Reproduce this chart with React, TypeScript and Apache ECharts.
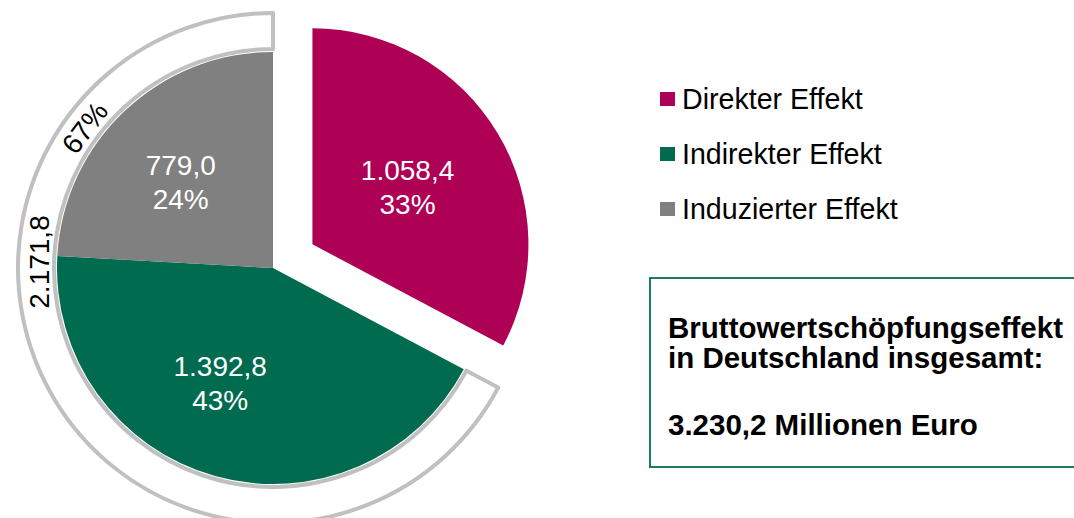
import React, { useEffect, useRef } from "react";
import * as echarts from "echarts";

const categories = ["Direkter Effekt", "Indirekter Effekt", "Induzierter Effekt"];
const values = [1058.4, 1392.8, 779.0];
const colors = ["#AE0055", "#006B4F", "#808080"];
const labelOffsets = [[7, 3], [-23, 9], [-16, -5]];
const boxLines = ["Bruttowertschöpfungseffekt", "in Deutschland insgesamt:", "3.230,2 Millionen Euro"];

const FONT = "Liberation Sans, Arial, sans-serif";

function de(v: number): string {
  const [i, d] = v.toFixed(1).split(".");
  return i.replace(/\B(?=(\d{3})+(?!\d))/g, ".") + "," + d;
}

export default function App() {
  const ref = useRef<HTMLDivElement>(null);
  useEffect(() => {
    document.body.style.margin = "0";
    const chart = echarts.init(ref.current!, null, { renderer: "svg" });
    const total = values.reduce((a, b) => a + b, 0);
    const ringValue = values[1] + values[2];
    const ringPct = Math.round((ringValue / total) * 100);
    const cx = 273;
    const cy = 268;
    chart.setOption({
      animation: false,
      legend: {
        orient: "vertical",
        left: 660,
        top: 84,
        padding: 0,
        itemWidth: 15,
        itemHeight: 14,
        itemGap: 25,
        icon: "rect",
        data: categories,
        selectedMode: false,
        textStyle: {
          fontFamily: FONT,
          fontSize: 28.6,
          color: "#000",
          lineHeight: 30,
          padding: [0, 0, 0, 2],
        },
      },
      series: [
        {
          type: "pie",
          center: [cx, cy],
          radius: [0, 216],
          startAngle: 90,
          clockwise: true,
          selectedMode: "single",
          selectedOffset: 46,
          silent: true,
          percentPrecision: 0,
          label: {
            show: true,
            position: "inside",
            color: "#fff",
            fontFamily: FONT,
            fontSize: 28,
            lineHeight: 34,
            formatter: (p: any) => de(p.value) + "\n" + p.percent + "%",
          },
          labelLine: { show: false },
          data: categories.map((name, i) => ({
            name,
            value: values[i],
            selected: i === 0,
            itemStyle: { color: colors[i] },
            label: { offset: labelOffsets[i] },
          })),
        },
        {
          type: "pie",
          center: [cx, cy],
          radius: [219, 255],
          startAngle: 90,
          clockwise: true,
          silent: true,
          label: { show: false },
          labelLine: { show: false },
          data: [
            { value: values[0], name: "rest", itemStyle: { color: "rgba(0,0,0,0)", borderWidth: 0 } },
            { value: ringValue, name: "ring", itemStyle: { color: "#fff", borderColor: "#C0C0C0", borderWidth: 4 } },
          ],
        },
      ],
      graphic: [
        {
          type: "text",
          z: 100,
          x: 85,
          y: 128,
          rotation: (53 * Math.PI) / 180,
          style: {
            text: ringPct + "%",
            fontFamily: FONT,
            fontSize: 28,
            fill: "#000",
            align: "center",
            verticalAlign: "middle",
          },
        },
        {
          type: "text",
          z: 100,
          x: 39,
          y: 262,
          rotation: Math.PI / 2,
          style: {
            text: de(ringValue),
            fontFamily: FONT,
            fontSize: 28,
            fill: "#000",
            align: "center",
            verticalAlign: "middle",
          },
        },
        {
          type: "rect",
          z: 100,
          shape: { x: 650, y: 278, width: 440, height: 189 },
          style: { fill: "none", stroke: "#1E7A5C", lineWidth: 2 },
        },
        ...boxLines.map((t, i) => ({
          type: "text",
          z: 100,
          x: 668,
          y: [327, 357, 424][i],
          style: {
            text: t,
            fontFamily: FONT,
            fontSize: 29.5,
            fontWeight: "bold",
            fill: "#000",
            align: "left",
            verticalAlign: "middle",
          },
        })),
      ],
    });
    return () => chart.dispose();
  }, []);
  return <div ref={ref} style={{ width: 1074, height: 518 }} />;
}
